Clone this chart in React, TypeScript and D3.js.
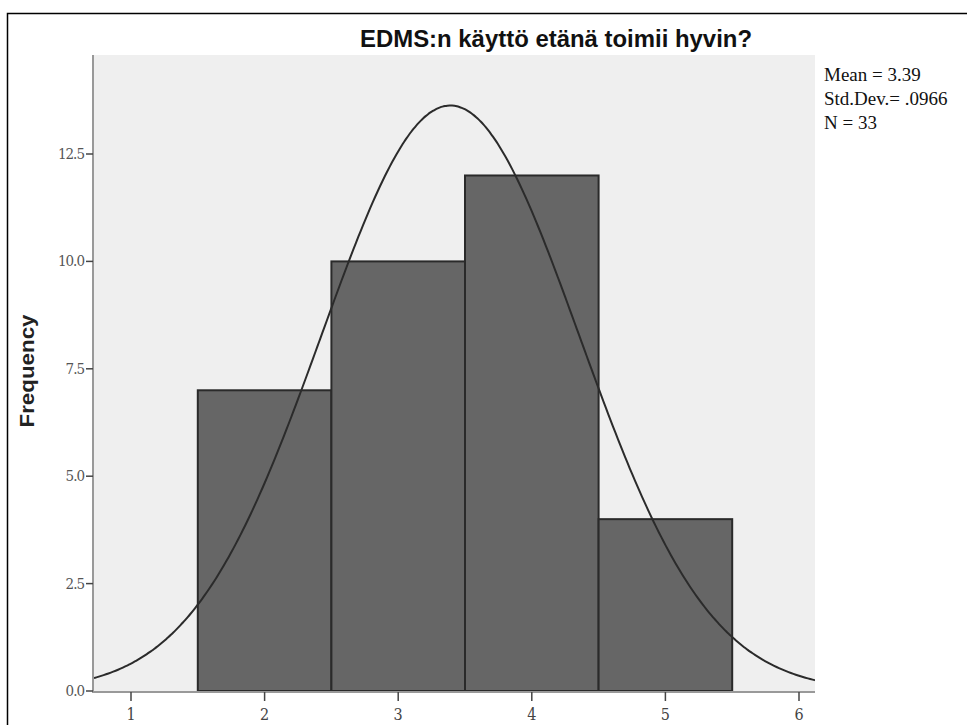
import React from "react";
import * as d3 from "d3";

const binStarts = [1.5, 2.5, 3.5, 4.5];
const binEnds = [2.5, 3.5, 4.5, 5.5];
const frequencies = [7, 10, 12, 4];
const xTicks = [1, 2, 3, 4, 5, 6];
const yTicks = [0, 2.5, 5, 7.5, 10, 12.5];
const mean = 3.39;
const stdDev = 0.966;
const nTotal = 33;
const binWidth = 1;
const titleText = "EDMS:n käyttö etänä toimii hyvin?";
const statLines = ["Mean = 3.39", "Std.Dev.= .0966", "N = 33"];

export default function App() {
  const W = 967, H = 725;
  const plotLeft = 94, plotRight = 815, plotTop = 55, plotBottom = 691;
  const x = d3.scaleLinear().domain([1, 6]).range([131, 799]);
  const y = d3.scaleLinear().domain([0, 12.5]).range([691, 154]);
  const xMin = x.invert(plotLeft), xMax = x.invert(plotRight);
  const pts: [number, number][] = d3.range(0, 301).map((i) => {
    const v = xMin + ((xMax - xMin) * i) / 300;
    const z = (v - mean) / stdDev;
    const f = (nTotal * binWidth) / (stdDev * Math.sqrt(2 * Math.PI)) * Math.exp(-0.5 * z * z);
    return [v, f];
  });
  const line = d3.line<[number, number]>().x((d) => x(d[0])).y((d) => y(d[1])).curve(d3.curveBasis);
  const tickFont = "DejaVu Serif Condensed, DejaVu Serif, serif";
  return (
    <svg width={W} height={H} style={{ position: "absolute", left: 0, top: 0, background: "#fff" }}>
      <rect x={7.5} y={13.5} width={1200} height={1200} fill="#fff" stroke="#000" strokeWidth={1.5} />
      <text x={360} y={47} textLength={392} lengthAdjust="spacingAndGlyphs" fontFamily="Liberation Sans, Arial" fontWeight="bold" fontSize={24} fill="#111">{titleText}</text>
      <defs>
        <clipPath id="plotclip"><rect x={plotLeft} y={plotTop} width={plotRight - plotLeft} height={plotBottom - plotTop} /></clipPath>
      </defs>
      <rect x={plotLeft} y={plotTop} width={plotRight - plotLeft} height={plotBottom - plotTop} fill="#efefef" />
      {frequencies.map((f, i) => (
        <rect key={i} x={x(binStarts[i])} y={y(f)} width={x(binEnds[i]) - x(binStarts[i])} height={y(0) - y(f)} fill="#666666" stroke="#2a2a2a" strokeWidth={2} />
      ))}
      <g clipPath="url(#plotclip)">
        <path d={line(pts) || ""} fill="none" stroke="#2b2b2b" strokeWidth={2} />
      </g>
      <line x1={93} y1={plotTop} x2={93} y2={693} stroke="#999" strokeWidth={2} />
      <line x1={92} y1={692} x2={plotRight} y2={692} stroke="#999" strokeWidth={2} />
      {yTicks.map((t) => (
        <g key={t}>
          <line x1={86} x2={93} y1={y(t)} y2={y(t)} stroke="#444" strokeWidth={1.5} />
          <text x={84} y={y(t) + 5} textAnchor="end" fontFamily={tickFont} fontSize={15} fill="#555" letterSpacing={-1}>{t.toFixed(1)}</text>
        </g>
      ))}
      {xTicks.map((t) => (
        <g key={t}>
          <line x1={x(t)} x2={x(t)} y1={692} y2={701} stroke="#444" strokeWidth={1.5} />
          <text x={x(t)} y={720} textAnchor="middle" fontFamily={tickFont} fontSize={16} fill="#444">{t}</text>
        </g>
      ))}
      <text transform="translate(34,371) rotate(-90)" textAnchor="middle" textLength={113} lengthAdjust="spacingAndGlyphs" fontFamily="Liberation Sans, Arial" fontWeight="bold" fontSize={21} fill="#222">Frequency</text>
      {statLines.map((s, i) => (
        <text key={i} x={824} y={81 + i * 24} fontFamily="Liberation Serif, Times New Roman, serif" fontSize={19} fill="#111">{s}</text>
      ))}
    </svg>
  );
}
